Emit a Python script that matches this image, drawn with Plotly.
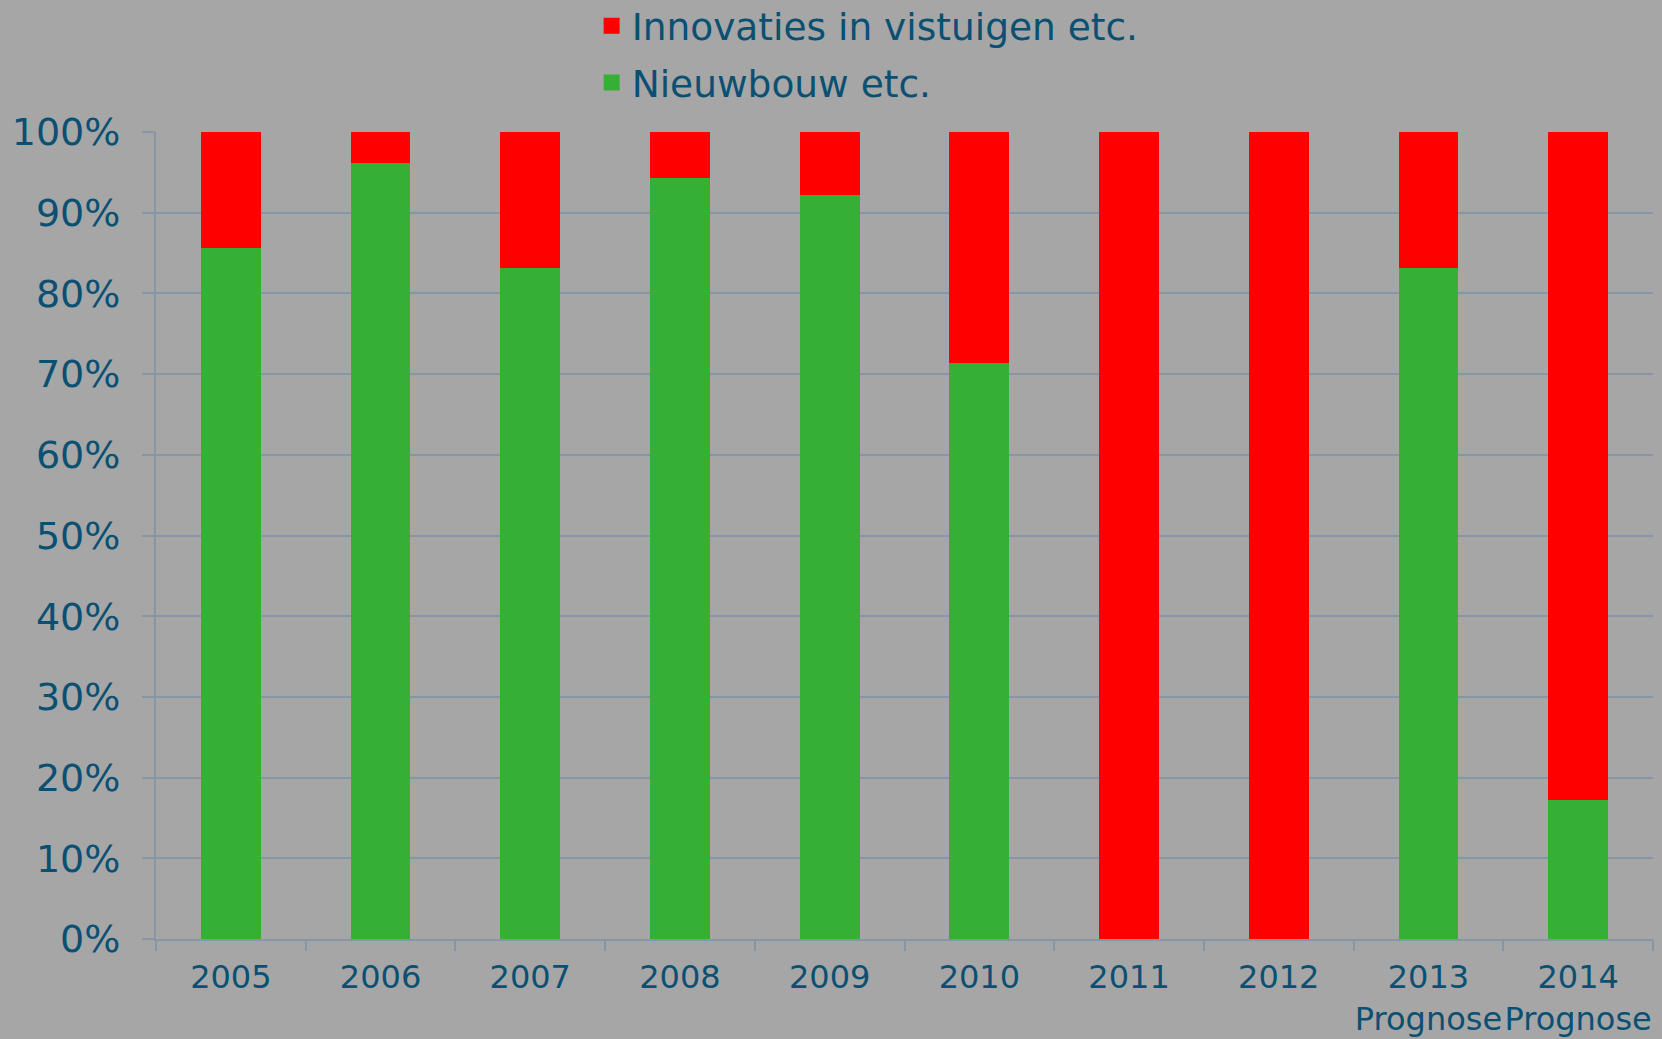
import plotly.graph_objects as go

years = ["2005", "2006", "2007", "2008", "2009", "2010", "2011", "2012",
         "2013<br>Prognose", "2014<br>Prognose"]
nieuwbouw = [0.856, 0.961, 0.832, 0.943, 0.922, 0.714, 0.0, 0.0, 0.832, 0.172]
innovaties = [0.144, 0.039, 0.168, 0.057, 0.078, 0.286, 1.0, 1.0, 0.168, 0.828]

GREEN = "#35b035"
RED = "#ff0000"
TEXT = "#0a5073"
GRID = "#8796a6"
BG = "#a6a6a6"
FONT = "Verdana, DejaVu Sans, sans-serif"

fig = go.Figure()
fig.add_trace(go.Bar(x=years, y=nieuwbouw, name="Nieuwbouw etc.",
                     marker=dict(color=GREEN, line=dict(width=0)), showlegend=False))
fig.add_trace(go.Bar(x=years, y=innovaties, name="Innovaties in vistuigen etc.",
                     marker=dict(color=RED, line=dict(width=0)), showlegend=False))
# legend entries
fig.add_trace(go.Scatter(x=[None], y=[None], mode="markers", name="Innovaties in vistuigen etc.",
                         marker=dict(symbol="square", size=16, color=RED),
                         legendgroup="a"))
fig.add_trace(go.Scatter(x=[None], y=[None], mode="markers", name="Nieuwbouw etc.",
                         marker=dict(symbol="square", size=16, color=GREEN),
                         legendgroup="b"))

fig.update_layout(
    width=1662, height=1039,
    barmode="stack", bargap=0.6,
    paper_bgcolor=BG, plot_bgcolor=BG,
    font=dict(family=FONT, color=TEXT, size=32),
    margin=dict(l=156, r=9, t=132, b=100, autoexpand=False),
    legend=dict(orientation="v", traceorder="grouped", tracegroupgap=5,
                x=0.291, xanchor="left", xref="paper",
                y=1.17, yanchor="top", yref="paper",
                font=dict(size=37.5, color=TEXT, family=FONT),
                bgcolor="rgba(0,0,0,0)", itemsizing="trace"),
    xaxis=dict(type="category", showline=True, linecolor=GRID, linewidth=2,
               ticks="outside", ticklen=10, tickwidth=2, tickcolor=GRID,
               tickson="boundaries", showgrid=False, tickangle=0, automargin=False,
               ticklabelstandoff=9,
               tickfont=dict(size=32, color=TEXT, family=FONT)),
    yaxis=dict(range=[0, 1], dtick=0.1, tickformat=".0%", showline=True,
               linecolor=GRID, linewidth=2, showgrid=True, gridcolor=GRID,
               gridwidth=2, ticks="outside", ticklen=12, tickwidth=2,
               tickcolor=GRID, ticklabelstandoff=14, zeroline=False, automargin=False,
               tickfont=dict(size=38, color=TEXT, family=FONT)),
)

fig.write_html("out.html", config={"displayModeBar": False},
               post_script="document.body.style.margin='0';")
